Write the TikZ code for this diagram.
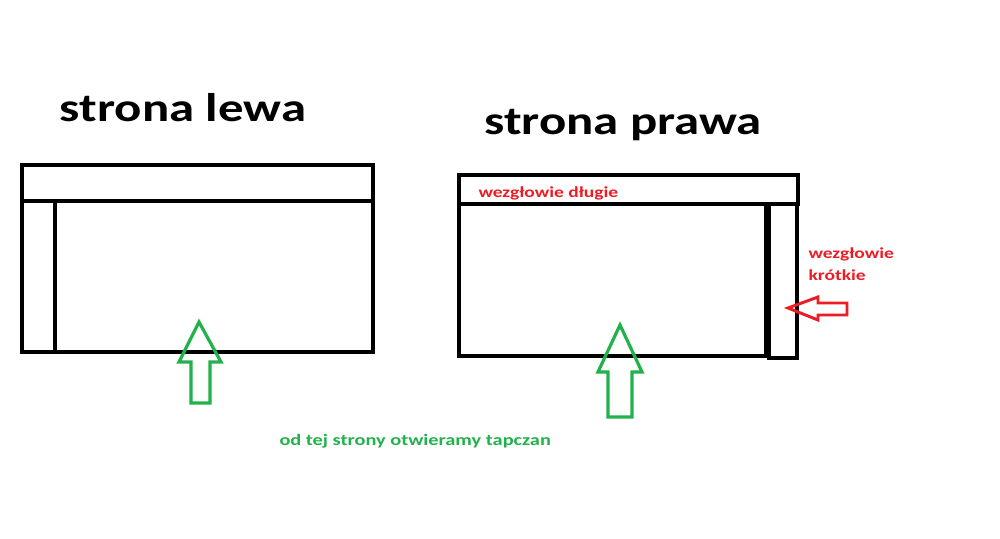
\documentclass[tikz,border=0pt]{standalone}
\usepackage{fontspec}
\setmainfont{Carlito}
\definecolor{paintred}{RGB}{237,28,36}
\definecolor{paintgreen}{RGB}{34,177,76}
\newcommand{\widetext}[1]{\scalebox{1.27}[1]{#1}}
\tikzset{every picture/.style={line width=0.75pt}}
\tikzset{
  sofa/.style={draw=black, line width=3pt, line join=miter},
  openarrow/.style={draw=paintgreen, line width=2.4pt, line join=miter},
  headarrow/.style={draw=paintred, line width=2.2pt, line join=miter},
  title/.style={font=\fontsize{30}{36}\selectfont\bfseries, inner sep=0pt},
  redlabel/.style={text=paintred, font=\fontsize{11.5}{16.5}\selectfont\bfseries, inner sep=0pt, align=left},
  greenlabel/.style={text=paintgreen, font=\fontsize{12}{14}\selectfont\bfseries, inner sep=0pt}
}

\begin{document}
\begin{tikzpicture}[x=0.75pt,y=0.75pt,yscale=-1,xscale=1]
	\useasboundingbox (0,0) rectangle (1000,539);

	%Shape: Rectangle [left, backrest]
	\draw [sofa] (22,165) rectangle (373,201) ;
	%Shape: Rectangle [left, seat]
	\draw [sofa] (22,201) rectangle (373,352) ;
	%Straight Lines [left, short head]
	\draw [sofa] (55,201) -- (55,352) ;

	%Shape: Rectangle [right, backrest]
	\draw [sofa] (459,175) rectangle (798,204) ;
	%Shape: Rectangle [right, seat]
	\draw [sofa] (459,204) rectangle (766,356) ;
	%Shape: Rectangle [right, short head]
	\draw [sofa] (769,204) rectangle (797,358) ;

	%Shape: Arrow [left, opening side]
	\draw [openarrow] (199,322) -- (221,362) -- (210,362) -- (210,403) -- (191,403) -- (191,362) -- (179,362) -- cycle ;
	%Shape: Arrow [right, opening side]
	\draw [openarrow] (620,325) -- (642,372) -- (632,372) -- (632,417) -- (608,417) -- (608,372) -- (598,372) -- cycle ;
	%Shape: Arrow [short head]
	\draw [headarrow] (788,308) -- (818,297) -- (818,303) -- (847,303) -- (847,315) -- (818,315) -- (818,320) -- cycle ;

	% Text Node
	\node [title, anchor=base] (lewa) at (183,121) {\widetext{strona lewa}};
	% Text Node
	\node [title, anchor=base] (prawa) at (623,134) {\widetext{strona prawa}};
	% Text Node
	\node [redlabel, anchor=base west] (dlugie) at (478,197) {\widetext{wezgłowie długie}};
	% Text Node
	\node [redlabel, anchor=north west] (krotkie) at (808,247) {\widetext{wezgłowie}\\\widetext{krótkie}};
	% Text Node
	\node [greenlabel, anchor=base west] (tapczan) at (279,445) {\widetext{od tej strony otwieramy tapczan}};

\end{tikzpicture}
\end{document}
